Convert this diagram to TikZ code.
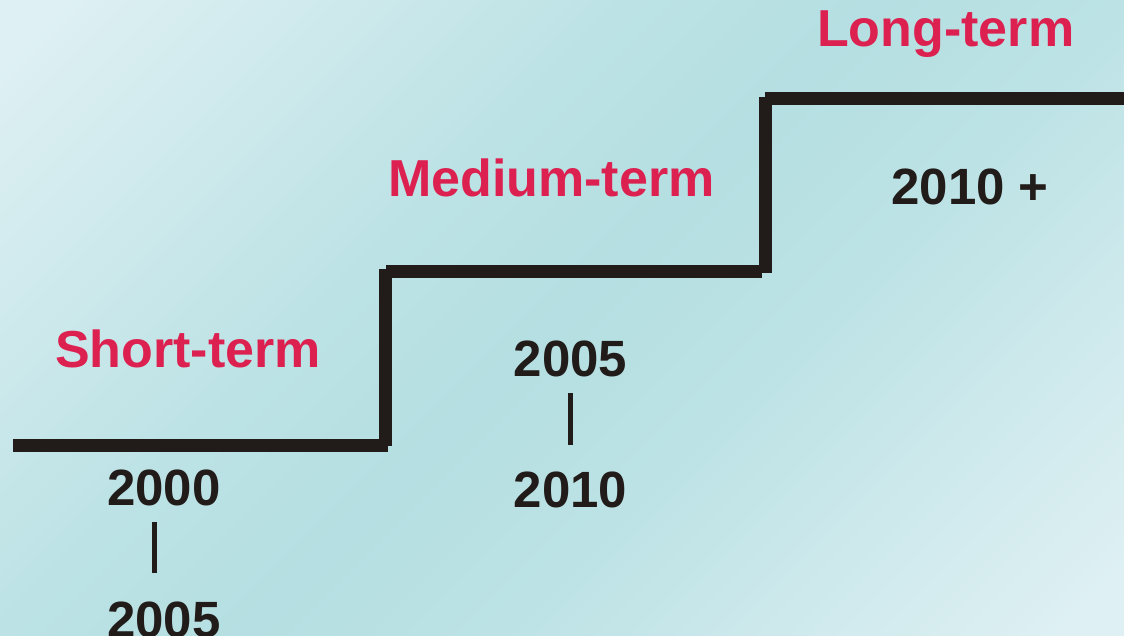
\documentclass[tikz,border=0pt]{standalone}
\usepackage{fontspec}
\setmainfont{Liberation Sans}
\definecolor{crim}{HTML}{DC2050}
\definecolor{ink}{HTML}{211C19}
\definecolor{bglight}{HTML}{DEF0F3}
\definecolor{bgA}{HTML}{D0EAED}
\definecolor{bgB}{HTML}{BCE2E5}
\definecolor{bgmid}{HTML}{B5DFE2}
\pgfdeclareverticalshading{bgshade}{100bp}{color(0bp)=(bglight); color(17bp)=(bglight); color(27bp)=(bgA); color(40bp)=(bgB); color(50bp)=(bgmid); color(60bp)=(bgB); color(73bp)=(bgA); color(83bp)=(bglight); color(100bp)=(bglight)}
\begin{document}
\begin{tikzpicture}[x=1pt,y=-1pt,
  term/.style={text=crim,font=\fontsize{52}{60}\selectfont\bfseries,inner sep=0pt},
  year/.style={text=ink,font=\fontsize{51}{60}\selectfont\bfseries,inner sep=0pt,anchor=base},
  stair/.style={draw=ink,line width=13pt},
  bar/.style={draw=ink,line width=5pt}]
\useasboundingbox (0,0) rectangle (1124,636);
\shade[shading=bgshade,shading angle=45] (0,0) rectangle (1124,636);
% staircase
\coordinate (s1a) at (13,445.5);
\coordinate (s1b) at (388,445.5);
\coordinate (v1a) at (385.5,446);
\coordinate (v1b) at (385.5,269);
\coordinate (s2a) at (386,271.5);
\coordinate (s2b) at (762,271.5);
\coordinate (v2a) at (765.5,273);
\coordinate (v2b) at (765.5,97);
\coordinate (s3a) at (765,99);
\coordinate (s3b) at (1124,99);
\draw[stair] (s1a) -- (s1b);
\draw[stair] (v1a) -- (v1b);
\draw[stair] (s2a) -- (s2b);
\draw[stair] (v2a) -- (v2b);
\draw[stair] (s3a) -- (s3b);
% labels
\node[term,anchor=base west] (st) at (55,367) {Short-term};
\node[term,anchor=base west] (mt) at (388,197) {Medium-term};
\node[term,anchor=base west] (lt) at (817,47) {Long-term};
\node[year] (y1a) at (164,505) {2000};
\node[year] (y1b) at (164,637) {2005};
\coordinate (b1a) at (154.5,522);
\coordinate (b1b) at (154.5,573);
\draw[bar] (b1a) -- (b1b);
\node[year] (y2a) at (570.5,376) {2005};
\node[year] (y2b) at (570.5,507) {2010};
\coordinate (b2a) at (570.5,393);
\coordinate (b2b) at (570.5,445);
\draw[bar] (b2a) -- (b2b);
\node[year] (y3) at (970,205) {2010 +};
\end{tikzpicture}
\end{document}
